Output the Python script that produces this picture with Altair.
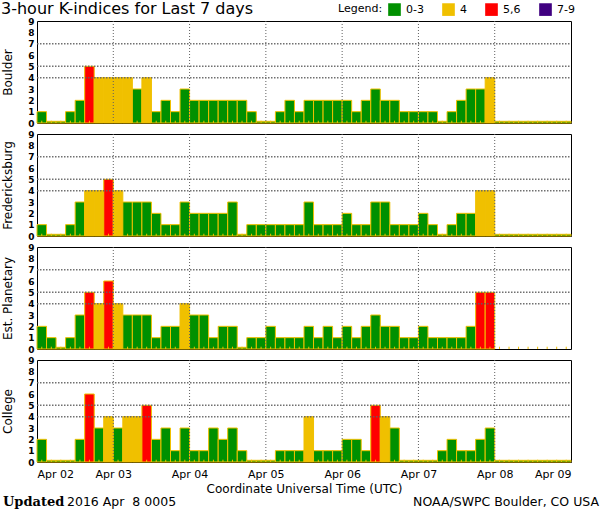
import altair as alt
import pandas as pd

title_text = "3-hour K-indices for Last 7 days"
x_title = "Coordinate Universal Time (UTC)"
footer_bold = "Updated"
footer_date = "2016 Apr \u00a08 0005"
footer_right = "NOAA/SWPC Boulder, CO USA"

stations = ["Boulder", "Fredericksburg", "Est. Planetary", "College"]

boulder = [1, 0, 0, 1, 2, 5, 4, 4, 4, 4, 3, 4, 1, 2, 1, 3,
           2, 2, 2, 2, 2, 2, 1, 0, 0, 1, 2, 1, 2, 2, 2, 2,
           2, 1, 2, 3, 2, 2, 1, 1, 1, 1, 0, 1, 2, 3, 3, 4,
           0, 0, 0, 0, 0, 0, 0, 0]
fredericksburg = [1, 0, 0, 1, 3, 4, 4, 5, 4, 3, 3, 3, 2, 1, 1, 3,
                  2, 2, 2, 2, 3, 0, 1, 1, 1, 1, 1, 1, 3, 1, 1, 1,
                  2, 1, 1, 3, 3, 1, 1, 1, 2, 1, 0, 1, 2, 2, 4, 4,
                  0, 0, 0, 0, 0, 0, 0, 0]
planetary = [2, 1, 0, 1, 3, 5, 4, 6, 4, 3, 3, 3, 1, 2, 2, 4,
             3, 3, 1, 2, 2, 0, 1, 1, 2, 1, 1, 1, 2, 1, 2, 1,
             2, 1, 2, 3, 2, 2, 1, 1, 2, 1, 1, 1, 1, 2, 5, 5,
             None, None, None, None, None, None, None, None]
college = [2, 0, 0, 0, 2, 6, 3, 4, 3, 4, 4, 5, 2, 3, 1, 3,
           1, 1, 3, 2, 3, 1, 0, 0, 0, 1, 1, 1, 4, 1, 1, 1,
           2, 2, 1, 5, 4, 3, 0, 0, 0, 0, 1, 2, 1, 1, 2, 3,
           0, 0, 0, 0, 0, 0, 0, 0]
series = [boulder, fredericksburg, planetary, college]

categories = ["0-3", "4", "5,6", "7-9"]
cat_colors = ["#009000", "#F0C000", "#FF0000", "#400080"]
thresholds = [4, 5, 7]
day_labels = ["2016-04-02", "2016-04-03", "2016-04-04", "2016-04-05",
              "2016-04-06", "2016-04-07", "2016-04-08", "2016-04-09"]

start = pd.Timestamp("2016-04-02 00:00")
FMT = "%Y-%m-%dT%H:%M:%SZ"


def category(k):
    if k is None:
        return None
    if k <= 3:
        return "0-3"
    if k == 4:
        return "4"
    if k <= 6:
        return "5,6"
    return "7-9"


def frame(vals):
    rows = []
    for i, k in enumerate(vals):
        t0 = start + pd.Timedelta(hours=3 * i)
        rows.append({
            "t": t0.strftime(FMT),
            "t2": (t0 + pd.Timedelta(hours=3)).strftime(FMT),
            "mid": (t0 + pd.Timedelta(minutes=90)).strftime(FMT),
            "k": k,
            "cat": category(k),
        })
    return pd.DataFrame(rows)


day_iso = [d + "T00:00:00Z" for d in day_labels]
day_vals = [alt.DateTime(year=int(d[:4]), month=int(d[5:7]), date=int(d[8:10]), utc=True)
            for d in day_labels]
x_scale = alt.Scale(type="utc", domain=[day_vals[0], day_vals[-1]])
y_scale = alt.Scale(domain=[0, 9], nice=False)

FONT = "DejaVu Sans"
W, H = 534, 102
GRID = "#606060"

legend = alt.Legend(
    orient="none", legendX=301, legendY=-18, direction="horizontal",
    title="Legend:", titleOrient="left", titleFontSize=11, titleFontWeight="normal",
    titleFont=FONT, titleColor="black", titlePadding=5, titleBaseline="middle",
    labelFontSize=11, labelFont=FONT, labelColor="black", labelOffset=5,
    symbolType="square", symbolSize=160, symbolStrokeWidth=0, symbolOpacity=1,
    columnPadding=18,
)


def panel(idx):
    name = stations[idx]
    df = frame(series[idx])
    bottom = idx == len(stations) - 1
    top = idx == 0

    if bottom:
        x_axis = alt.Axis(
            values=day_vals, labelExpr="utcFormat(datum.value, '%b %d')",
            grid=False, ticks=False, domain=False, labels=True,
            labelFont=FONT, labelColor="black", labelFontSize=11, labelPadding=6,
            title=x_title, titleFont=FONT, titleFontSize=12,
            titleFontWeight="normal", titleColor="black", titlePadding=4,
        )
    else:
        x_axis = None

    y_axis = alt.Axis(
        values=list(range(10)), ticks=False, labelFontSize=9,
        labelFont=FONT, labelColor="black", labelPadding=3, labelFontWeight="bold",
        labelOverlap=False, domain=False, title=name, titleFont=FONT,
        titleFontSize=12, titleFontWeight="normal", titleColor="black",
        titlePadding=13, grid=False,
    )

    base = alt.Chart(df)
    bars = base.transform_filter("isValid(datum.k)").transform_calculate(
        kp="max(datum.k, 0.15)"
    ).mark_bar(stroke="#F0C000", strokeWidth=1, opacity=1).encode(
        x=alt.X("t:T", scale=x_scale, axis=x_axis),
        x2="t2:T",
        y=alt.Y("kp:Q", scale=y_scale, axis=y_axis),
        y2=alt.Y2Datum(0),
        color=alt.Color("cat:N", scale=alt.Scale(domain=categories, range=cat_colors),
                        legend=legend),
    )
    ticks = base.mark_rule(color="#F0C000", strokeWidth=1).encode(
        x=alt.X("mid:T", scale=x_scale, axis=None),
        y=alt.YDatum(0, axis=None),
        y2=alt.Y2Datum(0.2),
    )
    hrules = [
        alt.Chart(pd.DataFrame({"v": [v]})).mark_rule(
            strokeDash=[1.5, 1.5], color=GRID, strokeWidth=1.5, opacity=0.9
        ).encode(
            x=alt.XDatum(day_vals[0], scale=x_scale, axis=None),
            x2=alt.X2Datum(day_vals[-1]),
            y=alt.YDatum(v, scale=y_scale, axis=None),
        )
        for v in thresholds
    ]
    vrules = alt.Chart(pd.DataFrame({"d": day_iso[1:-1]})).mark_rule(
        strokeDash=[1, 2], color=GRID, strokeWidth=1
    ).encode(x=alt.X("d:T", scale=x_scale, axis=None))

    layers = [bars, ticks] + hrules + [vrules]
    if top:
        layers.append(
            alt.Chart(pd.DataFrame({"s": [title_text]})).mark_text(
                align="left", baseline="middle", fontSize=16, font=FONT, color="black"
            ).encode(x=alt.value(-36), y=alt.value(-12), text="s:N")
        )
    if bottom:
        layers.append(
            alt.Chart(pd.DataFrame({"s": [footer_bold]})).mark_text(
                align="left", baseline="middle", fontSize=13, font="DejaVu Serif",
                fontWeight="bold", color="black"
            ).encode(x=alt.value(-34), y=alt.value(H + 40), text="s:N")
        )
        layers.append(
            alt.Chart(pd.DataFrame({"s": [footer_date]})).mark_text(
                align="left", baseline="middle", fontSize=12.5, font=FONT, color="black"
            ).encode(x=alt.value(30), y=alt.value(H + 40), text="s:N")
        )
        layers.append(
            alt.Chart(pd.DataFrame({"s": [footer_right]})).mark_text(
                align="right", baseline="middle", fontSize=12.5, font=FONT, color="black"
            ).encode(x=alt.value(562), y=alt.value(H + 40), text="s:N")
        )
    return alt.layer(*layers).resolve_axis(x="independent", y="independent").properties(
        width=W, height=H
    )


chart = alt.vconcat(*[panel(i) for i in range(len(stations))], spacing=0).properties(
    padding={"left": 0, "top": 0, "right": 0, "bottom": 0}
).configure_view(stroke="black", strokeWidth=1)

chart.save("out.html", embed_options={"renderer": "svg", "actions": False})
